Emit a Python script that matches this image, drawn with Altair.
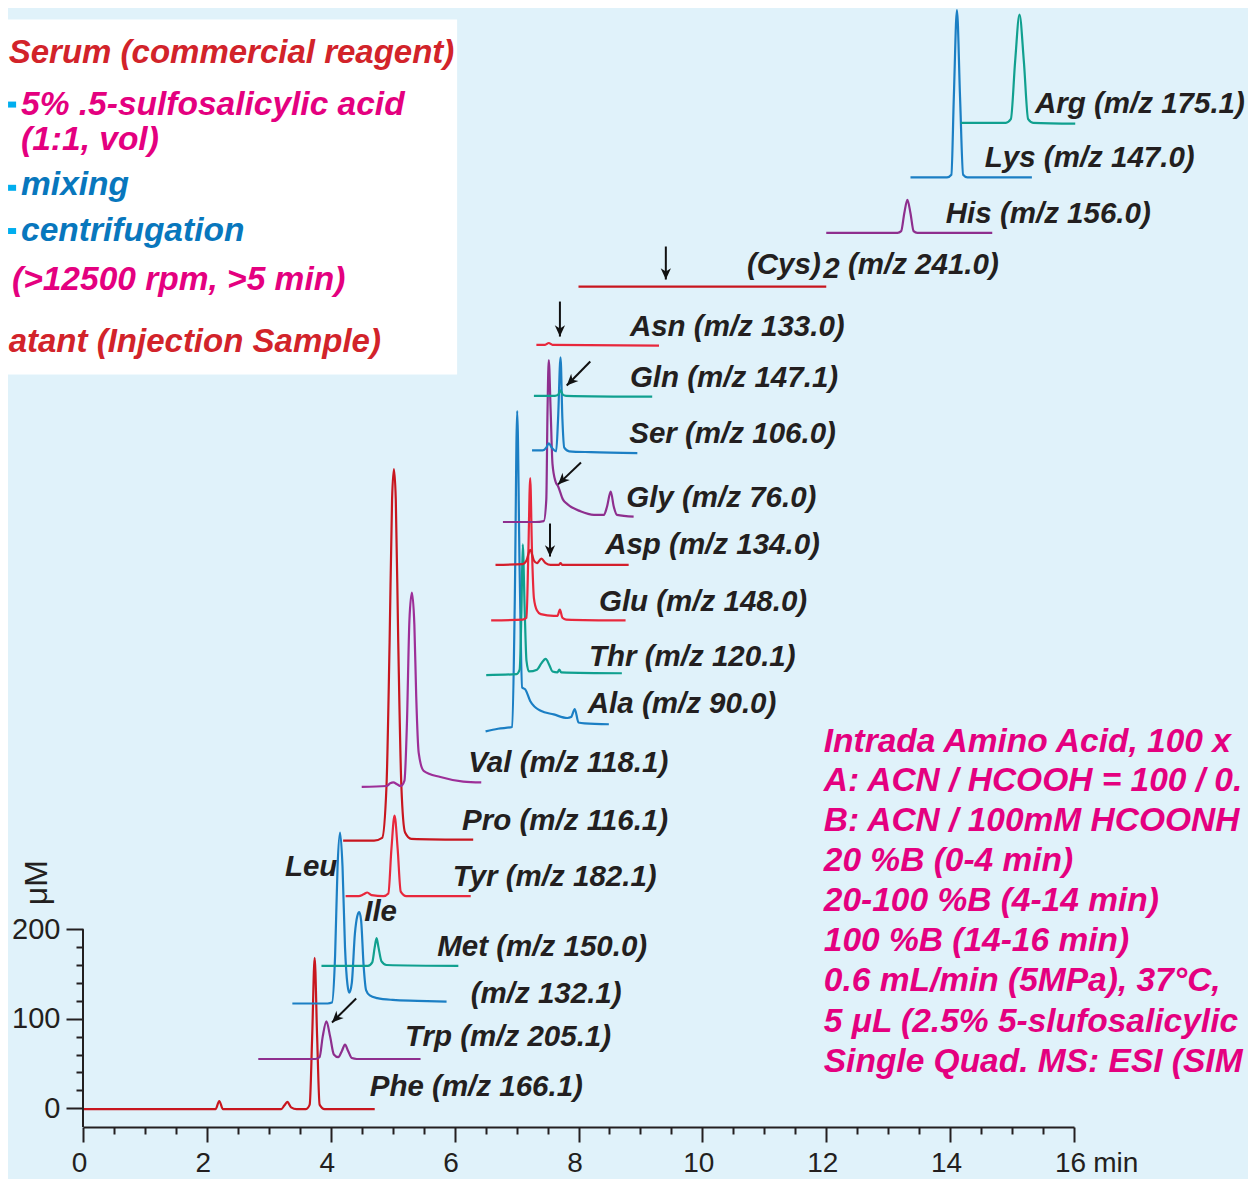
import altair as alt
import pandas as pd

# ------------------------------------------------------------------
# Chromatogram traces (time in min, signal in uM incl. stacking offset)
# ------------------------------------------------------------------
phe_t = [0.0, 1.0, 2.0, 2.14, 2.2, 2.26, 3.2, 3.25, 3.3, 3.36, 3.45, 3.6, 3.66, 3.70, 3.74, 3.78, 3.82, 3.9, 4.2, 4.71]
phe_v = [-1, -1, -1, -1, 8, -1, -1, 3, 7, 1, -1, -1, 4, 80, 168, 80, 4, -1, -1, -1]

trp_t = [2.83, 3.75, 3.82, 3.87, 3.93, 3.99, 4.05, 4.12, 4.18, 4.23, 4.28, 4.34, 4.42, 5.45]
trp_v = [55, 55, 57, 80, 97, 80, 60, 57, 64, 71, 64, 56, 55, 55]

leu_t = [3.38, 3.95, 4.02, 4.07, 4.11, 4.15, 4.19, 4.23, 4.27, 4.30, 4.34, 4.39, 4.43, 4.46, 4.49, 4.53, 4.57, 4.63, 4.75, 5.0, 5.4, 5.87]
leu_v = [117, 117, 118, 170, 270, 308, 270, 180, 138, 129, 140, 195, 215, 219, 210, 160, 132, 126, 123, 121, 120, 119]

met_t = [3.85, 4.6, 4.67, 4.71, 4.74, 4.77, 4.82, 4.9, 6.06]
met_v = [159, 159, 163, 180, 190, 180, 164, 160, 159]

tyr_t = [4.24, 4.45, 4.53, 4.59, 4.66, 4.85, 4.93, 4.98, 5.03, 5.08, 5.13, 5.22, 6.26]
tyr_v = [237, 237, 239, 241, 238, 237, 240, 290, 327, 290, 242, 237, 237]

pro_t = [4.2, 4.7, 4.83, 4.90, 4.95, 4.99, 5.02, 5.05, 5.09, 5.14, 5.2, 5.3, 6.3]
pro_v = [299, 299, 302, 360, 520, 680, 714, 680, 520, 360, 308, 301, 300]

val_t = [4.5, 4.9, 4.96, 5.01, 5.07, 5.13, 5.19, 5.23, 5.27, 5.31, 5.35, 5.38, 5.42, 5.5, 5.77, 6.14, 6.43]
val_v = [359, 360, 363, 364, 362, 360, 366, 430, 545, 576, 540, 460, 397, 377, 370, 365, 364]

ala_t = [6.5, 6.7, 6.93, 6.97, 7.01, 7.05, 7.09, 7.14, 7.22, 7.39, 7.6, 7.82, 7.88, 7.94, 8.0, 8.1, 8.49]
ala_v = [421, 424, 426, 560, 779, 600, 470, 468, 455, 444, 440, 436, 437, 446, 431, 430, 429]

thr_t = [6.51, 7.0, 7.05, 7.08, 7.1, 7.13, 7.16, 7.2, 7.33, 7.4, 7.47, 7.53, 7.58, 7.66, 7.69, 7.72, 8.7]
thr_v = [484, 485, 490, 560, 630, 560, 500, 488, 490, 497, 502, 495, 488, 487, 490, 487, 486]

glu_t = [6.59, 7.1, 7.16, 7.19, 7.22, 7.25, 7.28, 7.33, 7.39, 7.6, 7.66, 7.7, 7.74, 7.8, 8.76]
glu_v = [545, 546, 548, 620, 704, 620, 570, 556, 552, 550, 550, 557, 548, 546, 545]

asp_t = [6.66, 7.1, 7.16, 7.22, 7.28, 7.33, 7.40, 7.47, 7.55, 7.68, 7.71, 7.74, 8.81]
asp_v = [607, 608, 612, 624, 612, 609, 614, 609, 607, 607, 609, 607, 607]

gly_t = [6.78, 7.3, 7.44, 7.48, 7.5, 7.52, 7.55, 7.58, 7.63, 7.67, 7.75, 7.82, 8.03, 8.25, 8.41, 8.46, 8.52, 8.57, 8.62, 8.89]
gly_v = [655, 655, 656, 680, 780, 836, 780, 720, 700, 695, 680, 675, 667, 663, 663, 672, 689, 672, 663, 661]

ser_t = [7.25, 7.42, 7.48, 7.52, 7.57, 7.64, 7.67, 7.71, 7.74, 7.77, 7.85, 8.2, 8.95]
ser_v = [735, 735, 738, 743, 738, 734, 770, 839, 770, 738, 734, 733, 732]

gln_t = [7.28, 7.62, 7.67, 7.71, 7.75, 7.8, 9.19]
gln_v = [796, 796, 797, 802, 797, 796, 795]

asn_t = [7.32, 7.46, 7.52, 7.58, 9.3]
asn_v = [853, 853, 855, 853, 852]

cys_t = [8.0, 10.0, 12.0]
cys_v = [918, 918, 918]

his_t = [12.0, 13.15, 13.21, 13.26, 13.31, 13.36, 13.41, 13.47, 14.68]
his_v = [978, 978, 980, 1000, 1015, 1000, 980, 978, 978]

lys_t = [13.36, 13.95, 14.02, 14.06, 14.11, 14.16, 14.21, 14.28, 15.32]
lys_v = [1040, 1040, 1043, 1130, 1227, 1130, 1043, 1040, 1040]

arg_t = [14.17, 14.9, 14.98, 15.05, 15.12, 15.19, 15.26, 15.34, 16.02]
arg_v = [1101, 1101, 1105, 1170, 1222, 1170, 1105, 1101, 1100]

trace_names = ["Phe", "Trp", "Leu/Ile", "Met", "Tyr", "Pro", "Val", "Ala", "Thr", "Glu",
               "Asp", "Gly", "Ser", "Gln", "Asn", "Cys2", "His", "Lys", "Arg"]
trace_colors = ["#c8161e", "#8e2f8e", "#1b7fc4", "#10a08f", "#e8283c", "#c8161e", "#9d2f98",
                "#1b7fc4", "#10a08f", "#e8283c", "#d41f2c", "#8e2f8e", "#1b7fc4", "#10a08f",
                "#e8283c", "#c8161e", "#8e2f8e", "#1b7fc4", "#10a08f"]
trace_data = [(phe_t, phe_v), (trp_t, trp_v), (leu_t, leu_v), (met_t, met_v), (tyr_t, tyr_v),
              (pro_t, pro_v), (val_t, val_v), (ala_t, ala_v), (thr_t, thr_v), (glu_t, glu_v),
              (asp_t, asp_v), (gly_t, gly_v), (ser_t, ser_v), (gln_t, gln_v), (asn_t, asn_v),
              (cys_t, cys_v), (his_t, his_v), (lys_t, lys_v), (arg_t, arg_v)]

# trace labels
label_text = ["Arg (m/z 175.1)", "Lys (m/z 147.0)", "His (m/z 156.0)", "(Cys)", "2", "(m/z 241.0)",
              "Asn (m/z 133.0)", "Gln (m/z 147.1)", "Ser (m/z 106.0)", "Gly (m/z 76.0)",
              "Asp (m/z 134.0)", "Glu (m/z 148.0)", "Thr (m/z 120.1)", "Ala (m/z 90.0)",
              "Val (m/z 118.1)", "Pro (m/z 116.1)", "Tyr (m/z 182.1)", "Met (m/z 150.0)",
              "(m/z 132.1)", "Trp (m/z 205.1)", "Phe (m/z 166.1)", "Leu", "Ile"]
label_t = [15.37, 14.56, 13.93, 10.72, 11.95, 12.35, 8.83, 8.83, 8.82, 8.77, 8.43, 8.33, 8.17, 8.15,
           6.22, 6.12, 5.97, 5.72, 6.26, 5.20, 4.63, 3.26, 4.54]
label_v = [1112.5, 1051.1, 989.6, 931.6, 927.2, 931.6, 863.0, 806.1, 743.5, 672.0, 619.5, 555.8,
           494.4, 441.9, 376.0, 311.4, 248.8, 170.6, 117.0, 69.0, 13.1, 260.0, 209.7]

# sample preparation box
box_red_text = ["Serum (commercial reagent)", "atant (Injection Sample)"]
box_red_t = [-1.2, -1.2]
box_red_v = [1167.3, 845.4]
box_mag_text = ["5% .5-sulfosalicylic acid", "(1:1, vol)", "(>12500 rpm, >5 min)"]
box_mag_t = [-1.0, -1.0, -1.146]
box_mag_v = [1109.2, 1070.5, 914.7]
box_blue_text = ["mixing", "centrifugation"]
box_blue_t = [-1.0, -1.0]
box_blue_v = [1019.8, 969.5]
bullet_v = [1121.4, 1028.4, 980.1]

# conditions text (visible part; the reference is cropped at the right)
cond_text = ["Intrada Amino Acid, 100 x", "A: ACN / HCOOH = 100 / 0.", "B: ACN / 100mM HCOONH",
             "20 %B (0-4 min)", "20-100 %B (4-14 min)", "100 %B (14-16 min)",
             "0.6 mL/min (5MPa), 37°C,", "5 μL (2.5% 5-slufosalicylic", "Single Quad. MS: ESI (SIM"]
cond_v = [398.5, 353.9, 309.2, 264.5, 219.8, 175.1, 130.4, 85.7, 41.0]

# arrows: tail -> tip
arrow_t0 = [9.41, 7.70, 7.54, 8.19, 8.04, 4.41]
arrow_v0 = [962.8, 901.3, 653.3, 834.3, 721.5, 122.6]
arrow_t1 = [9.41, 7.70, 7.54, 7.81, 7.67, 4.02]
arrow_v1 = [925.9, 862.2, 616.4, 807.5, 697.0, 95.8]
arrow_angle = [0, 0, 0, 45, 45, 45]

x_major = [0, 2, 4, 6, 8, 10, 12, 14, 16]
x_minor = [i * 0.5 for i in range(33) if i % 4]
y_major = [0, 100, 200]
y_minor = [20, 40, 60, 80, 120, 140, 160, 180]

# ------------------------------------------------------------------
FONT = "Liberation Sans"
INK = "#231f20"
RED = "#d2232a"
MAG = "#e4007f"
BLUE = "#0877bd"

rows = []
for name, (ts, vs) in zip(trace_names, trace_data):
    for i, (t, v) in enumerate(zip(ts, vs)):
        rows.append({"trace": name, "i": i, "t": t, "v": v})
df = pd.DataFrame(rows)

X = alt.Scale(domain=[0, 16], nice=False, zero=False)
Y = alt.Scale(domain=[-21, 1229.3], nice=False, zero=False)


def xy(tf="t", vf="v"):
    return dict(x=alt.X(f"{tf}:Q", scale=X, axis=None), y=alt.Y(f"{vf}:Q", scale=Y, axis=None))


# white box
box = alt.Chart(pd.DataFrame({"t": [-1.5], "t2": [6.04], "v": [819.8], "v2": [1216.4]})).mark_rect(
    color="white").encode(**xy(), x2="t2:Q", y2="v2:Q")

bullets = alt.Chart(pd.DataFrame({"t": [-1.21] * 3, "t2": [-1.08] * 3, "v": bullet_v})).mark_rule(
    color="#00aeef", strokeWidth=6).encode(**xy(), x2="t2:Q")

traces = alt.Chart(df).mark_line(strokeWidth=2.2, interpolate="monotone").encode(
    x=alt.X("t:Q", scale=X, axis=alt.Axis(
        orient="bottom", values=x_major, tickSize=15, tickWidth=2, tickColor=INK,
        domain=True, domainWidth=2, domainColor=INK, labelFont=FONT, labelFontSize=28,
        labelColor=INK, labelPadding=7, labelOffset=-4, labelFlush=False, grid=False, title=None)),
    y=alt.Y("v:Q", scale=Y, axis=alt.Axis(
        orient="left", values=y_major, tickSize=17, tickWidth=2, tickColor=INK, domain=False,
        labelFont=FONT, labelFontSize=29, labelColor=INK, labelPadding=6, grid=False, title=None)),
    color=alt.Color("trace:N", scale=alt.Scale(domain=trace_names, range=trace_colors), legend=None),
    detail="trace:N",
    order="i:Q",
)

axis_line = alt.Chart(pd.DataFrame({"t": [0], "v": [-21], "v2": [200]})).mark_rule(
    strokeWidth=2, color=INK).encode(
    x=alt.X("t:Q", scale=X, axis=alt.Axis(
        orient="bottom", values=x_minor, tickSize=7, tickWidth=2, tickColor=INK, labels=False,
        domain=False, grid=False, title=None)),
    y=alt.Y("v:Q", scale=Y, axis=alt.Axis(
        orient="left", values=y_minor, tickSize=7, tickWidth=2, tickColor=INK, labels=False,
        domain=False, grid=False, title=None)),
    y2="v2:Q",
)

txt_style = dict(baseline="alphabetic", font=FONT, fontStyle="italic", fontWeight="bold")

labels = alt.Chart(pd.DataFrame({"text": label_text, "t": label_t, "v": label_v})).mark_text(
    align="left", fontSize=29.5, color=INK, **txt_style).encode(**xy(), text="text:N")

box_red = alt.Chart(pd.DataFrame({"text": box_red_text, "t": box_red_t, "v": box_red_v})).mark_text(
    align="left", fontSize=33, color=RED, **txt_style).encode(**xy(), text="text:N")
box_mag = alt.Chart(pd.DataFrame({"text": box_mag_text, "t": box_mag_t, "v": box_mag_v})).mark_text(
    align="left", fontSize=33.5, color=MAG, **txt_style).encode(**xy(), text="text:N")
box_blue = alt.Chart(pd.DataFrame({"text": box_blue_text, "t": box_blue_t, "v": box_blue_v})).mark_text(
    align="left", fontSize=33.5, color=BLUE, **txt_style).encode(**xy(), text="text:N")

cond = alt.Chart(pd.DataFrame({"text": cond_text, "t": [11.96] * len(cond_text), "v": cond_v})).mark_text(
    align="left", fontSize=33.5, color=MAG, **txt_style).encode(**xy(), text="text:N")

arr_df = pd.DataFrame({"t0": arrow_t0, "v0": arrow_v0, "t1": arrow_t1, "v1": arrow_v1, "a": arrow_angle})
shafts = alt.Chart(arr_df).mark_rule(strokeWidth=2, color="#111111").encode(
    **xy("t0", "v0"), x2="t1:Q", y2="v1:Q")
heads = alt.Chart(arr_df).mark_point(
    shape="M0,0L-0.45,-1L0,-0.7L0.45,-1Z", filled=True, size=520, color="#111111", opacity=1).encode(
    **xy("t1", "v1"), angle=alt.Angle("a:Q", scale=None))

unit = alt.Chart(pd.DataFrame({"text": ["μM"], "t": [-0.74], "v": [252.0]})).mark_text(
    align="center", baseline="middle", angle=270, font=FONT, fontSize=32, color=INK).encode(
    **xy(), text="text:N")
minlab = alt.Chart(pd.DataFrame({"text": ["min"], "t": [16.31], "v": [-71.5]})).mark_text(
    align="left", baseline="alphabetic", font=FONT, fontSize=28, color=INK).encode(
    **xy(), text="text:N")

chart = alt.layer(
    box, bullets, box_red, box_mag, box_blue, cond,
    traces, axis_line, labels, shafts, heads, unit, minlab,
).resolve_axis(x="independent", y="independent").properties(
    width=991, height=1119,
    autosize=alt.AutoSizeParams(type="none"),
    padding={"left": 75, "right": 174, "top": 0, "bottom": 52},
    background="#e0f2fa",
).configure_view(strokeWidth=0)

chart.save("out.html", embed_options={"renderer": "svg", "actions": False})
